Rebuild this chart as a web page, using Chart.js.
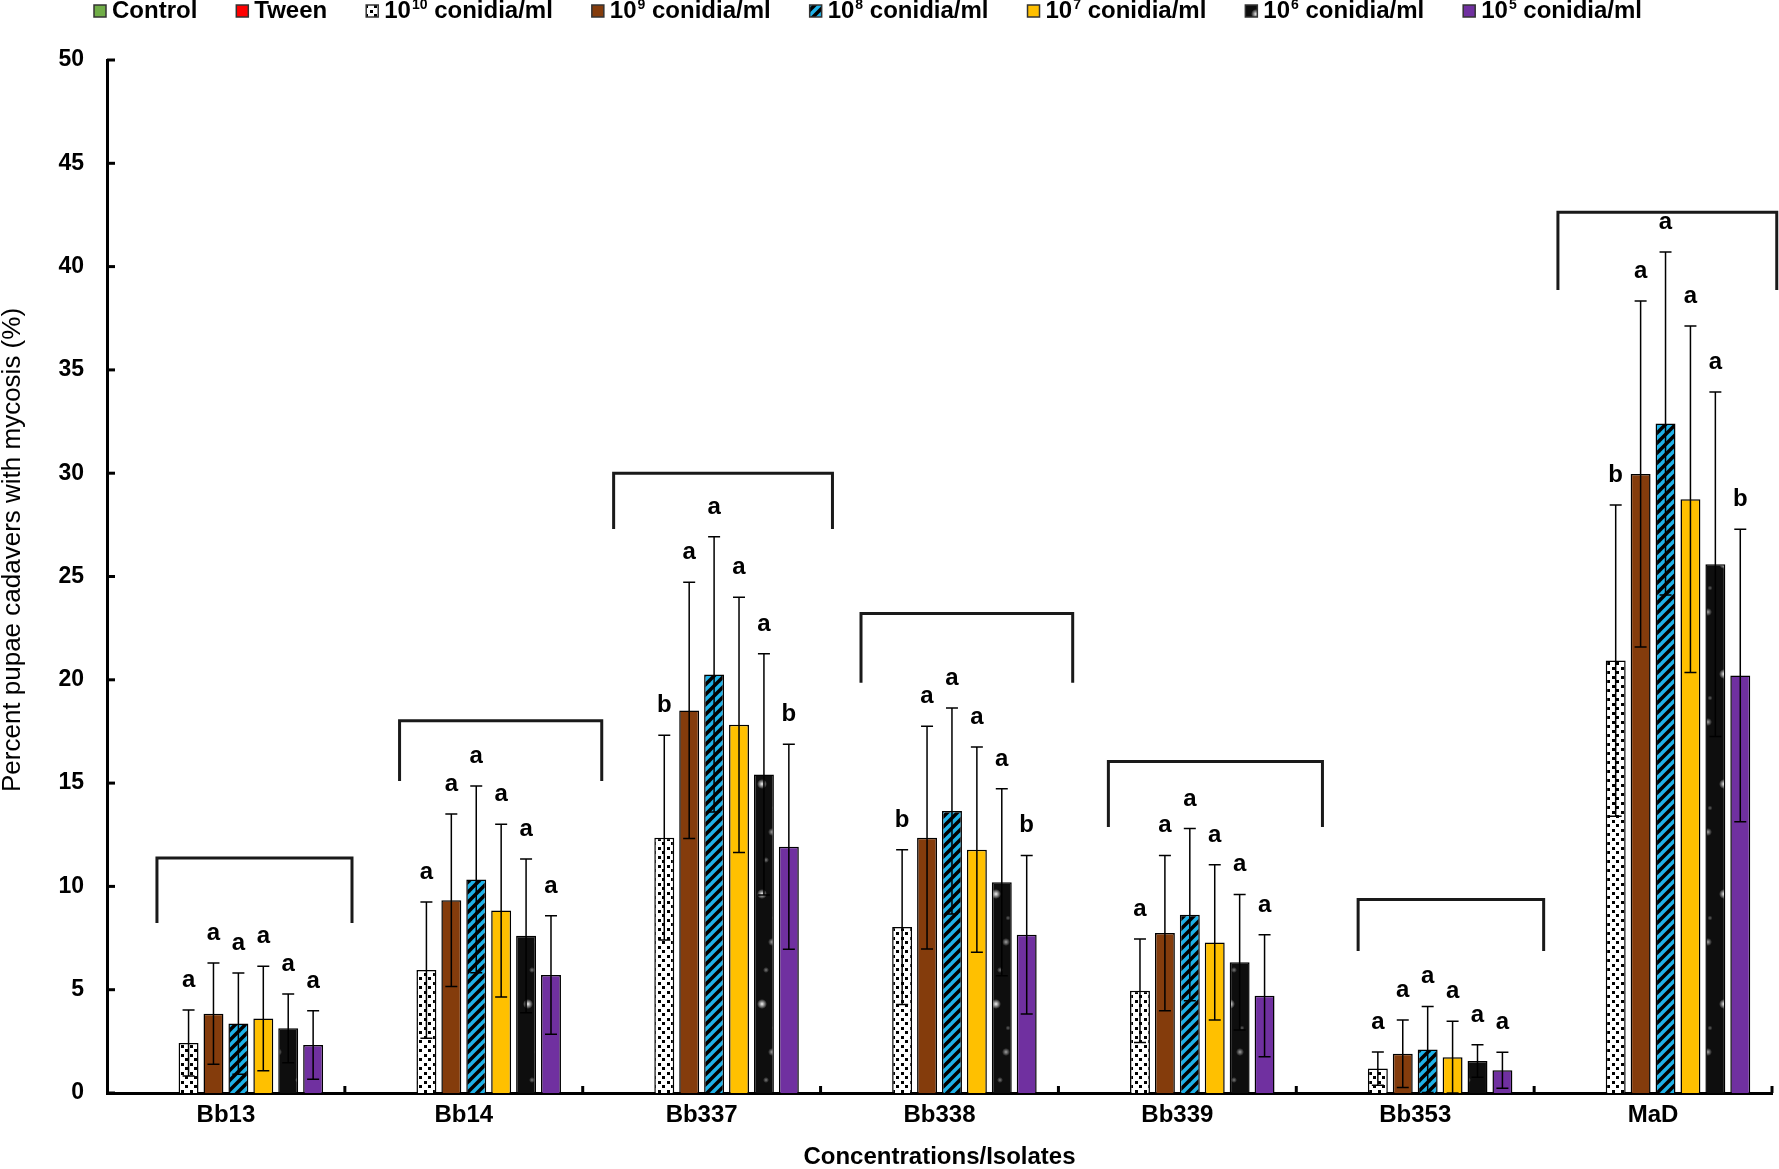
<!DOCTYPE html>
<html>
<head>
<meta charset="utf-8">
<script src="https://cdn.jsdelivr.net/npm/chart.js@4.4.1/dist/chart.umd.min.js"></script>
<style>
  html, body { margin: 0; padding: 0; background: #fff; }
  #wrap { width: 1779px; height: 1169px; position: relative; }
</style>
</head>
<body>
<div id="wrap"><canvas id="chart"></canvas></div>
<script>
// categories
const isolates = ['Bb13', 'Bb14', 'Bb337', 'Bb338', 'Bb339', 'Bb353', 'MaD'];
const seriesLabels = ['Control', 'Tween', '10^10 conidia/ml', '10^9 conidia/ml', '10^8 conidia/ml',
  '10^7 conidia/ml', '10^6 conidia/ml', '10^5 conidia/ml'];

// mean % pupae cadavers with mycosis
const controlVals = [0, 0, 0, 0, 0, 0, 0];
const tweenVals = [0, 0, 0, 0, 0, 0, 0];
const c1e10 = [2.42, 5.95, 12.36, 8.03, 4.95, 1.18, 20.93];
const c1e9 = [3.84, 9.33, 18.52, 12.36, 7.74, 1.90, 29.96];
const c1e8 = [3.36, 10.34, 20.26, 13.65, 8.63, 2.11, 32.41];
const c1e7 = [3.61, 8.83, 17.82, 11.78, 7.29, 1.73, 28.74];
const c1e6 = [3.13, 7.61, 15.42, 10.20, 6.33, 1.55, 25.59];
const c1e5 = [2.32, 5.71, 11.92, 7.66, 4.71, 1.10, 20.21];

// error bars (+/-)
const e1e10 = [1.60, 3.30, 4.96, 3.75, 2.50, 0.80, 7.53];
const e1e9 = [2.45, 4.17, 6.20, 5.39, 3.76, 1.63, 8.37];
const e1e8 = [2.45, 4.52, 6.66, 4.98, 4.17, 2.08, 8.30];
const e1e7 = [2.53, 4.18, 6.18, 4.97, 3.76, 1.74, 8.39];
const e1e6 = [1.66, 3.72, 5.84, 4.53, 3.28, 0.79, 8.34];
const e1e5 = [1.66, 2.87, 4.96, 3.84, 2.95, 0.87, 7.08];

// significance letters
const l1e10 = ['a', 'a', 'b', 'b', 'a', 'a', 'b'];
const l1e9 = ['a', 'a', 'a', 'a', 'a', 'a', 'a'];
const l1e8 = ['a', 'a', 'a', 'a', 'a', 'a', 'a'];
const l1e7 = ['a', 'a', 'a', 'a', 'a', 'a', 'a'];
const l1e6 = ['a', 'a', 'a', 'a', 'a', 'a', 'a'];
const l1e5 = ['a', 'a', 'b', 'b', 'a', 'a', 'b'];

// group brackets (y in %, x in category units relative to the isolate)
const bracketTop = [11.37, 18.02, 30.0, 23.21, 16.05, 9.37, 42.63];
const bracketLeg = [8.23, 15.1, 27.3, 19.86, 12.88, 6.87, 38.87];
const bracketFrom = [-0.29, -0.27, -0.37, -0.33, -0.29, -0.24, -0.40];
const bracketTo = [0.53, 0.58, 0.55, 0.56, 0.61, 0.54, 0.52];

const yTicks = [0, 5, 10, 15, 20, 25, 30, 35, 40, 45, 50];

const FONT = "'Liberation Sans', Arial, sans-serif";
Chart.defaults.font.family = FONT;
Chart.defaults.color = '#000';

const canvas = document.getElementById('chart');
const ctx = canvas.getContext('2d');

function makeTile(w, h, paint) {
  const c = document.createElement('canvas');
  c.width = w;
  c.height = h;
  paint(c.getContext('2d'));
  return ctx.createPattern(c, 'repeat');
}

const dotted = makeTile(9, 9, g => {
  g.fillStyle = '#fff';
  g.fillRect(0, 0, 9, 9);
  g.fillStyle = '#000';
  g.fillRect(1, 1, 3, 3);
  g.fillRect(5, 5, 3, 3);
});

const striped = makeTile(10, 10, g => {
  g.fillStyle = '#1fb2e8';
  g.fillRect(0, 0, 10, 10);
  g.strokeStyle = '#000';
  g.lineWidth = 3.5;
  [0, 10, 20].forEach(s => {
    g.beginPath();
    g.moveTo(s - 12, 12);
    g.lineTo(s + 2, -2);
    g.stroke();
  });
});

const starry = makeTile(26, 110, g => {
  g.fillStyle = '#0e0e0e';
  g.fillRect(0, 0, 26, 110);
  [[8, 14, 5, 0.95], [18, 62, 4, 0.6], [12, 90, 3, 0.45], [20, 38, 2.5, 0.35]].forEach(([x, y, r, a]) => {
    const grad = g.createRadialGradient(x, y, 0, x, y, r);
    grad.addColorStop(0, 'rgba(255,255,255,' + a + ')');
    grad.addColorStop(1, 'rgba(255,255,255,0)');
    g.fillStyle = grad;
    g.beginPath();
    g.arc(x, y, r, 0, Math.PI * 2);
    g.fill();
  });
});

const seriesValues = [controlVals, tweenVals, c1e10, c1e9, c1e8, c1e7, c1e6, c1e5];
const seriesErrors = [null, null, e1e10, e1e9, e1e8, e1e7, e1e6, e1e5];
const seriesLetters = [null, null, l1e10, l1e9, l1e8, l1e7, l1e6, l1e5];
const fills = ['#70ad47', '#ff0000', dotted, '#843c0c', striped, '#ffc000', starry, '#7030a0'];

const datasets = seriesLabels.map((label, i) => ({
  label: label,
  data: seriesValues[i],
  backgroundColor: fills[i],
  borderColor: '#000',
  borderWidth: i < 2 ? 0 : 1.5,
  barPercentage: 0.8,
  categoryPercentage: 0.838,
}));

const extras = {
  id: 'extras',
  beforeDraw(chart) {
    const c = chart.ctx;
    c.save();
    c.fillStyle = '#fff';
    c.fillRect(0, 0, chart.width, chart.height);
    c.restore();
  },
  afterDatasetsDraw(chart) {
    const c = chart.ctx;
    const x = chart.scales.x;
    const y = chart.scales.y;
    const area = chart.chartArea;
    c.save();

    // error bars and letters
    chart.data.datasets.forEach((ds, di) => {
      const errs = seriesErrors[di];
      if (!errs) return;
      const meta = chart.getDatasetMeta(di);
      meta.data.forEach((bar, k) => {
        const v = ds.data[k];
        const top = y.getPixelForValue(v + errs[k]);
        const bot = y.getPixelForValue(Math.max(v - errs[k], 0));
        c.strokeStyle = '#000';
        c.lineWidth = 1.5;
        c.beginPath();
        c.moveTo(bar.x, top);
        c.lineTo(bar.x, bot);
        c.moveTo(bar.x - 6, top);
        c.lineTo(bar.x + 6, top);
        c.moveTo(bar.x - 6, bot);
        c.lineTo(bar.x + 6, bot);
        c.stroke();

        c.fillStyle = '#000';
        c.font = 'bold 24px ' + FONT;
        c.textAlign = 'center';
        c.textBaseline = 'alphabetic';
        c.fillText(seriesLetters[di][k], bar.x, top - 23);
      });
    });

    // brackets over each isolate
    const catW = x.getPixelForValue(1) - x.getPixelForValue(0);
    c.strokeStyle = '#1a1a1a';
    c.lineWidth = 3;
    c.lineJoin = 'miter';
    isolates.forEach((name, k) => {
      const cx = x.getPixelForValue(k);
      const x0 = cx + bracketFrom[k] * catW;
      const x1 = cx + bracketTo[k] * catW;
      const yt = y.getPixelForValue(bracketTop[k]);
      const yl = y.getPixelForValue(bracketLeg[k]);
      c.beginPath();
      c.moveTo(x0, yl);
      c.lineTo(x0, yt);
      c.lineTo(x1, yt);
      c.lineTo(x1, yl);
      c.stroke();
    });

    // inward tick marks
    c.strokeStyle = '#000';
    c.lineWidth = 3;
    yTicks.forEach(v => {
      const py = y.getPixelForValue(v);
      c.beginPath();
      c.moveTo(area.left, py);
      c.lineTo(area.left + 8, py);
      c.stroke();
    });
    isolates.forEach((name, k) => {
      const px = x.getPixelForValue(k) + catW / 2;
      c.beginPath();
      c.moveTo(px, area.bottom);
      c.lineTo(px, area.bottom - 7);
      c.stroke();
    });
    c.restore();
  },
  afterDraw(chart) {
    const c = chart.ctx;
    const area = chart.chartArea;
    c.save();
    c.fillStyle = '#000';

    // axis titles
    c.font = '26px ' + FONT;
    c.textAlign = 'center';
    c.textBaseline = 'middle';
    c.translate(13, 550);
    c.rotate(-Math.PI / 2);
    c.fillText('Percent pupae cadavers with mycosis (%)', 0, 0);
    c.setTransform(1, 0, 0, 1, 0, 0);
    c.font = 'bold 24px ' + FONT;
    c.fillText('Concentrations/Isolates', (area.left + area.right) / 2, 1157);

    // legend
    let lx = 94;
    const ly = 11;
    chart.data.datasets.forEach(ds => {
      c.fillStyle = ds.backgroundColor;
      c.fillRect(lx, ly - 6, 12, 12);
      c.strokeStyle = '#333';
      c.lineWidth = 1.5;
      c.strokeRect(lx, ly - 6, 12, 12);
      lx += 18;
      c.fillStyle = '#000';
      c.textAlign = 'left';
      c.textBaseline = 'middle';
      const parts = ds.label.match(/^10\^(\d+)(.*)$/);
      if (parts) {
        c.font = 'bold 24px ' + FONT;
        c.fillText('10', lx, ly);
        lx += c.measureText('10').width + 1;
        c.font = 'bold 14px ' + FONT;
        c.fillText(parts[1], lx, ly - 6);
        lx += c.measureText(parts[1]).width;
        c.font = 'bold 24px ' + FONT;
        c.fillText(parts[2], lx, ly);
        lx += c.measureText(parts[2]).width;
      } else {
        c.font = 'bold 24px ' + FONT;
        c.fillText(ds.label, lx, ly);
        lx += c.measureText(ds.label).width;
      }
      lx += 39;
    });
    c.restore();
  },
};

new Chart(canvas, {
  type: 'bar',
  data: {
    labels: isolates,
    datasets: datasets,
  },
  options: {
    responsive: true,
    maintainAspectRatio: false,
    animation: false,
    events: [],
    layout: {
      padding: { top: 60, right: 7, left: 0, bottom: 0 },
    },
    plugins: {
      legend: { display: false },
      tooltip: { enabled: false },
    },
    scales: {
      x: {
        grid: { display: false, drawTicks: false },
        border: { display: true, color: '#000', width: 3 },
        ticks: {
          font: { size: 24, weight: 'bold' },
          color: '#000',
          padding: 8,
        },
        afterFit: scale => { scale.height = 76; },
      },
      y: {
        min: 0,
        max: 50,
        grid: { display: false, drawTicks: false },
        border: { display: true, color: '#000', width: 3 },
        ticks: {
          stepSize: 5,
          font: { size: 23, weight: 'bold' },
          color: '#000',
          padding: 23,
        },
        afterFit: scale => { scale.width = 107; },
      },
    },
  },
  plugins: [extras],
});
</script>
</body>
</html>
